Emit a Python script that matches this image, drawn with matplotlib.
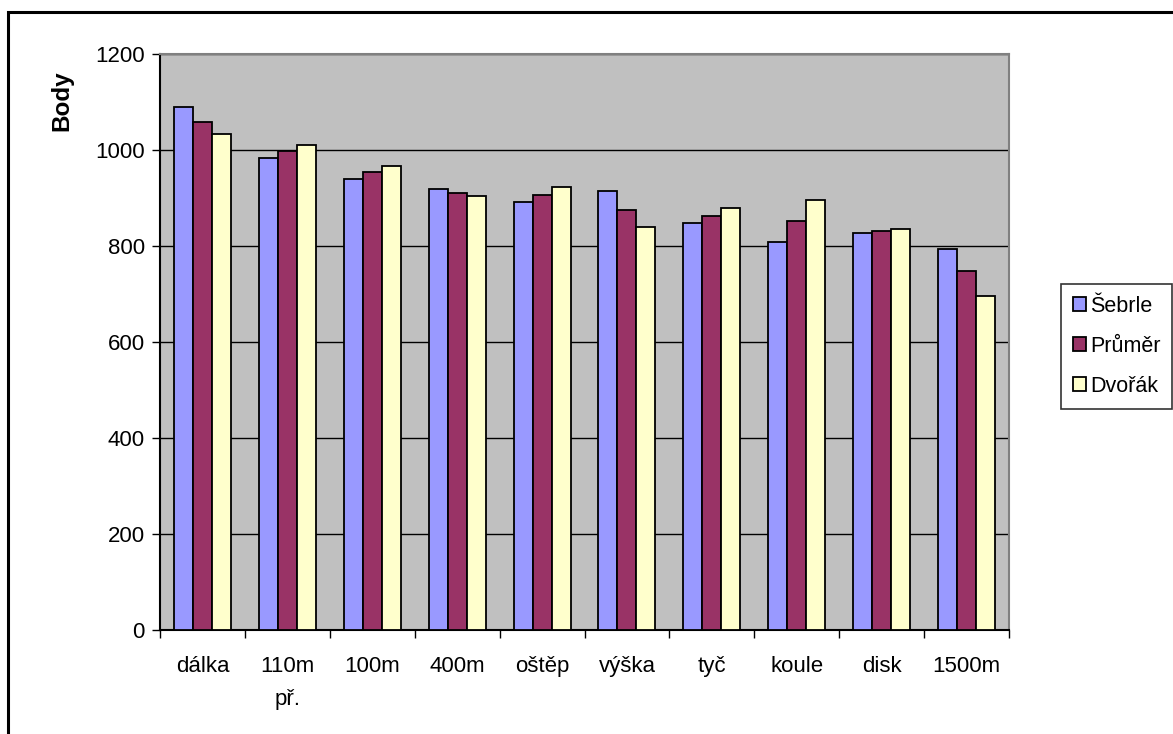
import numpy as np
import matplotlib
matplotlib.use("Agg")
from matplotlib import pyplot as plt
from matplotlib.patches import Rectangle

plt.rcParams['font.family'] = ['Liberation Sans', 'DejaVu Sans']

categories = ['dálka', '110m\npř.', '100m', '400m', 'oštěp', 'výška', 'tyč', 'koule', 'disk', '1500m']
sebrle = [1090, 984, 941, 919, 893, 915, 849, 809, 827, 795]
prumer = [1058, 998, 954, 910, 906, 875, 862, 853, 831, 749]
dvorak = [1033, 1010, 967, 905, 923, 839, 879, 896, 835, 696]
series_names = ['Šebrle', 'Průměr', 'Dvořák']
colors = ['#9999FF', '#993366', '#FFFFCC']
yticks = [0, 200, 400, 600, 800, 1000, 1200]

fig = plt.figure(figsize=(11.73, 7.34), dpi=100)
ax = fig.add_axes([160 / 1173, 1 - 630 / 734, 849 / 1173, (630 - 54.3) / 734])
ax.set_facecolor('#C0C0C0')

x = np.arange(len(categories))
w = 0.224
for i, (vals, name, col) in enumerate(zip([sebrle, prumer, dvorak], series_names, colors)):
    ax.bar(x + (i - 1) * w, vals, w, color=col, edgecolor='black', linewidth=1.3,
           label=name, zorder=3)

ax.set_xlim(-0.5, len(categories) - 0.5)
ax.set_ylim(0, 1200)
ax.set_yticks(yticks)
ax.yaxis.grid(True, color='black', linewidth=1.0, zorder=1)
ax.set_axisbelow(True)

# category ticks at boundaries, labels centred
ax.set_xticks(np.arange(len(categories) + 1) - 0.5)
ax.set_xticklabels([])
ax.set_xticks(x, minor=True)
ax.set_xticklabels(categories, minor=True, fontsize=16, linespacing=1.75, va='top')
ax.tick_params(axis='x', which='minor', length=0, pad=19)
ax.tick_params(axis='x', which='major', length=6, width=1, direction='out')
ax.tick_params(axis='y', labelsize=16, length=6, width=1, direction='out', pad=5)
for lab in ax.get_xticklabels(minor=True):
    lab.set_multialignment('center')

for s in ax.spines.values():
    s.set_color('#808080')
    s.set_linewidth(1.5)
ax.spines['bottom'].set_color('black')
ax.spines['left'].set_color('black')

ax.set_ylabel('Body', fontsize=17.5, fontweight='bold')
ax.yaxis.set_label_coords(-0.1025, 0.92)

leg = fig.legend(loc='upper left', bbox_to_anchor=(1061 / 1173, 1 - 284 / 734),
                 fontsize=15.5, frameon=True, fancybox=False, edgecolor='black',
                 handlelength=0.6, handleheight=0.6, handletextpad=0.2,
                 labelspacing=0.88, borderpad=0.55, borderaxespad=0)
leg.get_frame().set_linewidth(1.2)
for h in leg.legend_handles:
    h.set_linewidth(1.3)

# outer chart frame
fig.patches.append(Rectangle((8 / 1173, -0.1), 1.2, 1 - 12 / 734 + 0.1,
                             transform=fig.transFigure, fill=False,
                             edgecolor='black', linewidth=2.2, clip_on=False))

fig.savefig('out.png', dpi=100)
